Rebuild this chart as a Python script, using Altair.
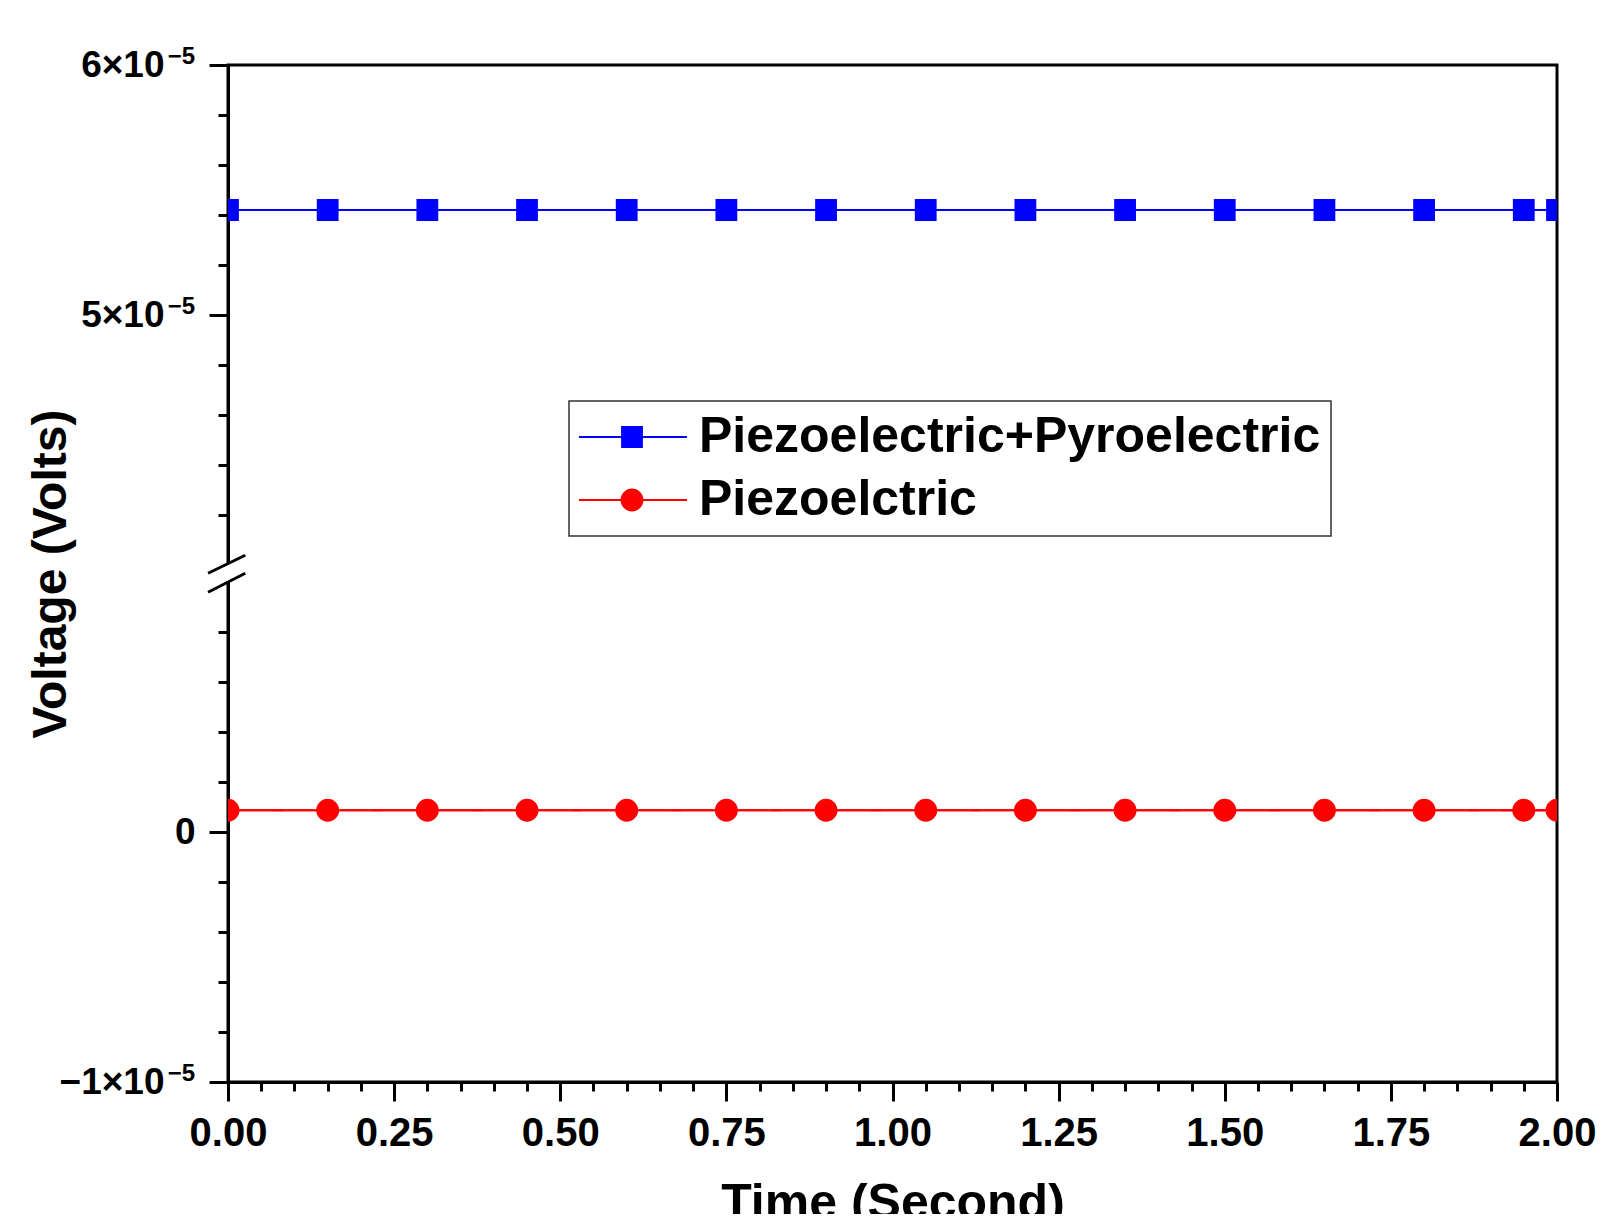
import altair as alt
import pandas as pd

# ---------------- data ----------------
time_s = [0.00, 0.15, 0.30, 0.45, 0.60, 0.75, 0.90, 1.05, 1.20, 1.35,
          1.50, 1.65, 1.80, 1.95, 2.00]
piezo_pyro_v = [5.42e-5, 5.42e-5, 5.42e-5, 5.42e-5, 5.42e-5, 5.42e-5, 5.42e-5,
                5.42e-5, 5.42e-5, 5.42e-5, 5.42e-5, 5.42e-5, 5.42e-5, 5.42e-5,
                5.42e-5]
piezo_v = [8.7e-7, 8.7e-7, 8.7e-7, 8.7e-7, 8.7e-7, 8.7e-7, 8.7e-7, 8.7e-7,
           8.7e-7, 8.7e-7, 8.7e-7, 8.7e-7, 8.7e-7, 8.7e-7, 8.7e-7]
series_names = ["Piezoelectric+Pyroelectric", "Piezoelctric"]
series_colors = ["#0000ff", "#ff0000"]

x_major_ticks = [0.00, 0.25, 0.50, 0.75, 1.00, 1.25, 1.50, 1.75, 2.00]
x_minor_ticks = [0.05, 0.10, 0.15, 0.20, 0.30, 0.35, 0.40, 0.45, 0.55, 0.60,
                 0.65, 0.70, 0.80, 0.85, 0.90, 0.95, 1.05, 1.10, 1.15, 1.20,
                 1.30, 1.35, 1.40, 1.45, 1.55, 1.60, 1.65, 1.70, 1.80, 1.85,
                 1.90, 1.95]
# major y ticks: mantissa part and exponent part of each label
y_major_ticks = [-1e-5, 0.0, 5e-5, 6e-5]
y_major_mantissa = ["\u22121\u00d710", "0", "5\u00d710", "6\u00d710"]
y_major_exponent = ["\u22125", "", "\u22125", "\u22125"]
y_minor_ticks = [-0.8e-5, -0.6e-5, -0.4e-5, -0.2e-5, 0.2e-5, 0.4e-5, 0.6e-5,
                 0.8e-5, 4.2e-5, 4.4e-5, 4.6e-5, 4.8e-5, 5.2e-5, 5.4e-5,
                 5.6e-5, 5.8e-5]

# broken y axis: lower part -1e-5..1e-5, upper part 4e-5..6e-5
BREAK_LO = 1e-5
BREAK_HI = 4e-5
GAP = 0.068e-5
Y_MIN = -1e-5
Y_MAX = 6e-5


def disp(v):
    return v if v <= BREAK_LO else v - (BREAK_HI - BREAK_LO) + GAP


# break decoration (in time units / display units)
brk_x1 = [-0.030, -0.030]
brk_x2 = [0.026, 0.026]
brk_y1 = [0.959e-5, 1.035e-5]
brk_y2 = [1.035e-5, 1.107e-5]
gap_x1 = [-0.006]
gap_x2 = [0.006]
gap_y1 = [1.0e-5]
gap_y2 = [1.073e-5]

FONT = "Liberation Sans, Arial, DejaVu Sans"

# ---------------- tables ----------------
rows = []
for t, v in zip(time_s, piezo_pyro_v):
    rows.append({"t": t, "v": v, "d": disp(v), "series": series_names[0]})
for t, v in zip(time_s, piezo_v):
    rows.append({"t": t, "v": v, "d": disp(v), "series": series_names[1]})
df = pd.DataFrame(rows)

brk_df = pd.DataFrame({"x1": brk_x1, "x2": brk_x2, "y1": brk_y1, "y2": brk_y2})
gap_df = pd.DataFrame({"x1": gap_x1, "x2": gap_x2, "y1": gap_y1, "y2": gap_y2})

y_major_disp = [disp(v) for v in y_major_ticks]
y_minor_disp = [disp(v) for v in y_minor_ticks]
exp_df = pd.DataFrame({"d": y_major_disp, "txt": y_major_exponent})
exp_df = exp_df[exp_df["txt"] != ""]

zero_disp = [d for d, m in zip(y_major_disp, y_major_mantissa) if m == "0"]
pow_disp = [d for d, m in zip(y_major_disp, y_major_mantissa) if m != "0"]


def label_expr(values, labels):
    pairs = sorted(zip(values, labels))
    expr = "'%s'" % pairs[-1][1]
    for i in range(len(pairs) - 2, -1, -1):
        thr = (pairs[i][0] + pairs[i + 1][0]) / 2
        expr = "datum.value < %r ? '%s' : (%s)" % (thr, pairs[i][1], expr)
    return expr


pow_labels = [m for m in y_major_mantissa if m != "0"]

x_scale = alt.Scale(domain=[0, 2], nice=False, zero=False)
y_scale = alt.Scale(domain=[disp(Y_MIN), disp(Y_MAX)], nice=False, zero=False)

x_major_axis = alt.Axis(
    orient="bottom", values=x_major_ticks, format=".2f", title="Time (Second)",
    tickSize=19, tickWidth=3, tickColor="black", domainWidth=3, domainColor="black",
    labelFont=FONT, labelFontSize=40, labelFontWeight="bold", labelColor="black",
    labelPadding=12, labelFlush=False, grid=False,
    titleFont=FONT, titleFontSize=50, titleFontWeight="bold", titleColor="black",
    titleBaseline="alphabetic", titleY=136, titleX=664.5, titleAlign="center",
)
x_minor_axis = alt.Axis(
    orient="bottom", values=x_minor_ticks, labels=False, title=None, domain=False,
    tickSize=9, tickWidth=3, tickColor="black", grid=False,
)
y_pow_axis = alt.Axis(
    orient="left", values=pow_disp, labelExpr=label_expr(pow_disp, pow_labels),
    title="Voltage (Volts)",
    tickSize=19, tickWidth=3, tickColor="black", domainWidth=3, domainColor="black",
    labelFont=FONT, labelFontSize=37, labelFontWeight="bold", labelColor="black",
    labelPadding=45, labelFlush=False, grid=False,
    titleFont=FONT, titleFontSize=48, titleFontWeight="bold", titleColor="black",
    titleAngle=-90, titleBaseline="alphabetic", titleAlign="center",
    titleX=-163, titleY=508.5,
)
y_zero_axis = alt.Axis(
    orient="left", values=zero_disp, labelExpr="'0'", title=None, domain=False,
    tickSize=19, tickWidth=3, tickColor="black",
    labelFont=FONT, labelFontSize=37, labelFontWeight="bold", labelColor="black",
    labelPadding=14, labelFlush=False, grid=False,
)
y_minor_axis = alt.Axis(
    orient="left", values=y_minor_disp, labels=False, title=None, domain=False,
    tickSize=10, tickWidth=3, tickColor="black", grid=False,
)

base = alt.Chart(df)

# one line layer per series (fixed colours, no colour scale)
line_pp = base.transform_filter(alt.datum.series == series_names[0]).mark_line(
    strokeWidth=2, clip=True, color=series_colors[0]
).encode(
    x=alt.X("t:Q", scale=x_scale, axis=x_major_axis),
    y=alt.Y("d:Q", scale=y_scale, axis=y_pow_axis),
)
line_p = base.transform_filter(alt.datum.series == series_names[1]).mark_line(
    strokeWidth=2, clip=True, color=series_colors[1]
).encode(
    x=alt.X("t:Q", scale=x_scale, axis=None),
    y=alt.Y("d:Q", scale=y_scale, axis=None),
)

# markers: symbol = marker plus a short line segment (legend shows line+marker)
sq_path = "M-1,0H1M-0.18,-0.18H0.18V0.18H-0.18Z"
ci_path = "M-1,0H1M0.19,0A0.19,0.19 0 1,1 -0.19,0A0.19,0.19 0 1,1 0.19,0Z"
leg = alt.Legend(
    title=None, orient="none", legendX=341, legendY=336,
    symbolSize=12100, symbolStrokeWidth=2,
    labelFont=FONT, labelFontSize=50, labelFontWeight="bold", labelColor="black",
    labelLimit=2000, labelOffset=11, symbolOffset=-3,
    padding=10, rowPadding=11, clipHeight=52,
    strokeColor="#333333", fillColor="white",
)
markers = base.mark_point(
    filled=True, opacity=1, size=12100, strokeWidth=2, clip=True
).encode(
    x=alt.X("t:Q", scale=x_scale, axis=x_minor_axis),
    y=alt.Y("d:Q", scale=y_scale, axis=y_minor_axis),
    shape=alt.Shape("series:N", scale=alt.Scale(domain=series_names, range=[sq_path, ci_path]),
                    legend=leg),
    fill=alt.Fill("series:N", scale=alt.Scale(domain=series_names, range=series_colors),
                  legend=leg),
    stroke=alt.Stroke("series:N", scale=alt.Scale(domain=series_names, range=series_colors),
                      legend=leg),
)

# axis helper layer: the "0" label (different label padding)
zero_axis_layer = base.mark_point(opacity=0).encode(
    x=alt.X("t:Q", scale=x_scale, axis=None),
    y=alt.Y("d:Q", scale=y_scale, axis=y_zero_axis),
)

# exponent (superscript) part of the y labels
exponents = alt.Chart(exp_df).mark_text(
    font=FONT, fontSize=24, fontWeight="bold", color="black",
    align="right", baseline="alphabetic", dy=-1, clip=False,
).encode(
    x=alt.value(-33),
    y=alt.Y("d:Q", scale=y_scale, axis=None),
    text="txt:N",
)

gap_rect = alt.Chart(gap_df).mark_rect(color="white", clip=False).encode(
    x=alt.X("x1:Q", scale=x_scale, axis=None),
    x2="x2:Q",
    y=alt.Y("y1:Q", scale=y_scale, axis=None),
    y2="y2:Q",
)

break_marks = alt.Chart(brk_df).mark_rule(color="black", strokeWidth=3, clip=False).encode(
    x=alt.X("x1:Q", scale=x_scale, axis=None),
    x2="x2:Q",
    y=alt.Y("y1:Q", scale=y_scale, axis=None),
    y2="y2:Q",
)

chart = alt.layer(
    line_pp, line_p, markers, zero_axis_layer, exponents, gap_rect, break_marks
).resolve_axis(
    x="independent", y="independent"
).properties(
    width=1329, height=1017,
    autosize=alt.AutoSizeParams(type="none"),
    padding={"left": 228, "top": 65, "right": 43, "bottom": 132},
    background="white",
).configure_view(
    stroke="black", strokeWidth=3
).configure_legend(
    strokeWidth=1.5
)

chart.save("out.html", embed_options={"renderer": "svg", "actions": False})
